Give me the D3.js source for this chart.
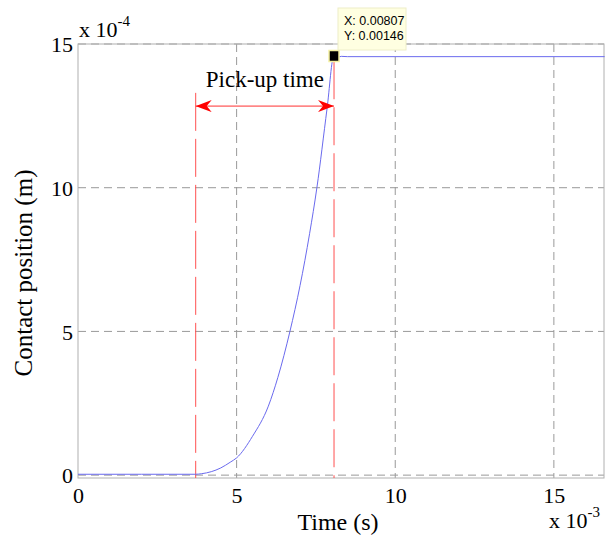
<!DOCTYPE html>
<html>
<head>
<meta charset="utf-8">
<script src="https://cdn.jsdelivr.net/npm/d3@7"></script>
<style>
  body { margin: 0; background: #fff; }
  svg text { font-family: "Liberation Serif", "Times New Roman", serif; }
  svg text.tip { font-family: "Liberation Sans", Arial, sans-serif; }
</style>
</head>
<body>
<svg id="chart" width="614" height="539"></svg>
<script>
// time in 1e-3 s, position in 1e-4 m
const timeVals = [0, 2.0, 3.71, 3.9, 4.2, 4.5, 4.8, 5.0, 5.5, 6.0, 6.3, 6.68, 7.0, 7.3, 7.53, 7.85, 8.07, 8.15, 8.3, 8.5, 16.6];
const posVals  = [0.03, 0.03, 0.03, 0.05, 0.12, 0.25, 0.45, 0.6, 1.35, 2.4, 3.4, 5.0, 6.6, 8.4, 10.0, 12.75, 14.6, 14.53, 14.57, 14.56, 14.56];
const xTicks = [0, 5, 10, 15];
const yTicks = [0, 5, 10, 15];
const pickStart = 3.71, pickEnd = 8.07;
const tipLines = ["X: 0.00807", "Y: 0.00146"];

const svg = d3.select("#chart");
const margin = { top: 44, right: 10, bottom: 61, left: 78 };
const width = 614 - margin.left - margin.right;
const height = 539 - margin.top - margin.bottom;

const x = d3.scaleLinear().domain([0, 16.58]).range([0, width]);
const y = d3.scaleLinear().domain([-0.1, 15]).range([height, 0]);

const g = svg.append("g").attr("transform", `translate(${margin.left},${margin.top})`);

// Grid
g.selectAll(".vgrid").data(xTicks.filter(d => d > 0)).enter().append("line")
  .attr("x1", d => x(d)).attr("x2", d => x(d)).attr("y1", 0).attr("y2", height)
  .attr("stroke", "#999").attr("stroke-dasharray", "8,5");
g.selectAll(".hgrid").data(yTicks).enter().append("line")
  .attr("x1", 0).attr("x2", width).attr("y1", d => y(d)).attr("y2", d => y(d))
  .attr("stroke", "#999").attr("stroke-dasharray", "8,5");

// Box
g.append("rect").attr("width", width).attr("height", height)
  .attr("fill", "none").attr("stroke", "#b0b0b0");

// Axes
const xAxis = g.append("g").attr("transform", `translate(0,${height})`)
  .call(d3.axisBottom(x).tickValues(xTicks).tickSize(0).tickPadding(9));
const yAxis = g.append("g")
  .call(d3.axisLeft(y).tickValues(yTicks).tickSize(0).tickPadding(5));
[xAxis, yAxis].forEach(a => {
  a.select(".domain").remove();
  a.selectAll("text").attr("font-size", 22).attr("fill", "#000");
});
yAxis.selectAll("text").attr("dy", "0.35em");

// Red dashed markers
g.selectAll(".pick").data([pickStart, pickEnd]).enter().append("line")
  .attr("x1", d => x(d)).attr("x2", d => x(d))
  .attr("y1", d => d === pickStart ? y(13.3) : y(14.4)).attr("y2", height)
  .attr("stroke", "#ff5050").attr("stroke-width", 1).attr("stroke-dasharray", "38,8");

// Curve
const line = d3.line().x((d, i) => x(timeVals[i])).y(d => y(d)).curve(d3.curveMonotoneX);
g.append("path").datum(posVals)
  .attr("d", line).attr("fill", "none")
  .attr("stroke", "#6a6aee").attr("stroke-width", 1);

// Arrow
const arrowY = y(12.84);
svg.append("defs").selectAll("marker").data(["s", "e"]).enter().append("marker")
  .attr("id", d => "arr" + d).attr("viewBox", "0 0 16 12").attr("refX", 16).attr("refY", 6)
  .attr("markerWidth", 16).attr("markerHeight", 12).attr("markerUnits", "userSpaceOnUse")
  .attr("orient", "auto-start-reverse")
  .append("path").attr("d", "M0,0 L16,6 L0,12 L5,6 Z").attr("fill", "#ff0000");
g.append("line")
  .attr("x1", x(pickStart)).attr("x2", x(pickEnd)).attr("y1", arrowY).attr("y2", arrowY)
  .attr("stroke", "#ff3030").attr("stroke-width", 1)
  .attr("marker-start", "url(#arrs)").attr("marker-end", "url(#arre)");
g.append("text")
  .attr("x", (x(pickStart) + x(pickEnd)) / 2).attr("y", arrowY - 19)
  .attr("text-anchor", "middle").attr("font-size", 23).text("Pick-up time");

// Data tip
const tx = x(pickEnd), ty = y(14.6);
g.append("rect").attr("x", tx - 5).attr("y", ty - 5).attr("width", 10).attr("height", 11)
  .attr("fill", "#000").attr("stroke", "#f4f0a0").attr("stroke-width", 1.5);
const tip = svg.append("g").attr("transform", "translate(338,8)");
tip.append("rect").attr("width", 68).attr("height", 42)
  .attr("fill", "#ffffe1").attr("stroke", "#eeeec8");
tip.selectAll("text").data(tipLines).enter().append("text")
  .attr("class", "tip")
  .attr("x", 6).attr("y", (d, i) => 17 + i * 15)
  .attr("font-size", 12.5)
  .text(d => d);

// Labels
svg.append("text").attr("x", 338).attr("y", 530).attr("text-anchor", "middle")
  .attr("font-size", 24).text("Time (s)");
svg.append("text").attr("transform", "translate(32,273) rotate(-90)")
  .attr("text-anchor", "middle").attr("font-size", 25).text("Contact position (m)");

// Exponent labels
const expY = svg.append("text").attr("x", 79).attr("y", 37).attr("font-size", 22);
expY.append("tspan").text("x 10");
expY.append("tspan").attr("dy", -11).attr("font-size", 15).text("-4");
const expX = svg.append("text").attr("x", 549).attr("y", 528).attr("font-size", 22);
expX.append("tspan").text("x 10");
expX.append("tspan").attr("dy", -11).attr("font-size", 15).text("-3");
</script>
</body>
</html>
